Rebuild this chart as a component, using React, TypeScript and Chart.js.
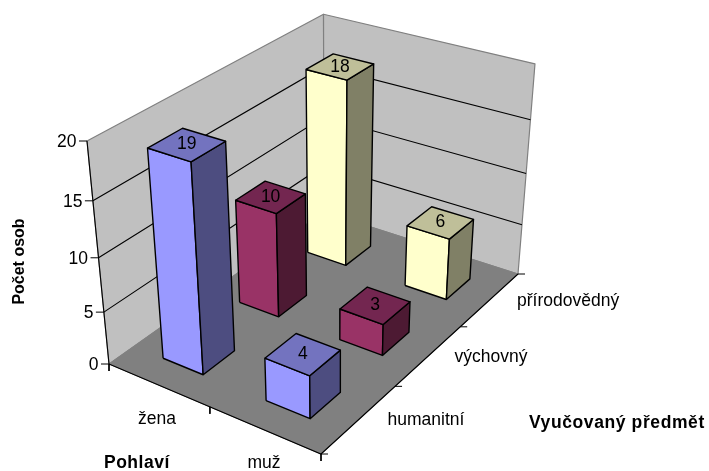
import React, { useEffect, useRef } from "react";
import { Chart, registerables } from "chart.js";

Chart.register(...registerables);

const subjects = ["humanitní", "výchovný", "přírodovědný"];
const genders = ["žena", "muž"];
const zena = [19, 10, 18];
const muz = [4, 3, 6];
const valueTicks = [0, 5, 10, 15, 20];
const valueMax = 20;
const faceColors = [
  { front: "#9999FF", side: "#4D4D80", top: "#7373BF" },
  { front: "#993366", side: "#4D1A33", top: "#732650" },
  { front: "#FFFFCC", side: "#808066", top: "#BFBF99" },
];

// perspective frame: the floor corners and the wall top corners
const A = [109, 364];
const B = [321, 454];
const C = [518, 274];
const D = [324, 212];
const Atop = [87, 141];
const Dtop = [324, 12];
const Ctop = [534, 65];

function makeProjection() {
  const dx1 = B[0] - C[0], dy1 = B[1] - C[1];
  const dx2 = D[0] - C[0], dy2 = D[1] - C[1];
  const sx = A[0] - B[0] + C[0] - D[0], sy = A[1] - B[1] + C[1] - D[1];
  const det = dx1 * dy2 - dx2 * dy1;
  const g = (sx * dy2 - dx2 * sy) / det;
  const h = (dx1 * sy - sx * dy1) / det;
  const a = B[0] - A[0] + g * B[0], b = D[0] - A[0] + h * D[0], c = A[0];
  const d = B[1] - A[1] + g * B[1], e = D[1] - A[1] + h * D[1], f = A[1];
  const rFromD = (b + Atop[0] - Dtop[0] * (1 + h)) / (Dtop[0] - Atop[0]);
  const rFromC = (a + b + Atop[0] - Ctop[0] * (1 + g + h)) / (Ctop[0] - Atop[0]);
  const r = (rFromD + rFromC) / 2;
  const p = Atop[0] * (1 + r) - c;
  const q = Atop[1] * (1 + r) - f;
  return (u: number, v: number, val: number) => {
    const s = u / genders.length, t = v / subjects.length, w = val / valueMax;
    const den = g * s + h * t + 1 + r * w;
    return { x: (a * s + b * t + c + p * w) / den, y: (d * s + e * t + f + q * w) / den };
  };
}
const project = makeProjection();

const poly = (pts: { x: number; y: number }[], fill: string, stroke: string, width: number) => ({
  data: [...pts, pts[0]],
  showLine: true,
  fill: "shape",
  backgroundColor: fill,
  borderColor: stroke,
  borderWidth: width,
  pointRadius: 0,
  tension: 0,
  clip: false,
  borderJoinStyle: "round",
});
const line = (pts: { x: number; y: number }[], stroke: string, width: number) => ({
  data: pts,
  showLine: true,
  fill: false,
  borderColor: stroke,
  borderWidth: width,
  pointRadius: 0,
  tension: 0,
  clip: false,
});

function buildDatasets() {
  const nu = genders.length, nv = subjects.length;
  const list: any[] = [];
  // walls and floor
  list.push(poly([project(0, 0, 0), project(0, nv, 0), project(0, nv, valueMax), project(0, 0, valueMax)], "#C0C0C0", "#808080", 1.2));
  list.push(poly([project(0, nv, 0), project(nu, nv, 0), project(nu, nv, valueMax), project(0, nv, valueMax)], "#C0C0C0", "#808080", 1.2));
  list.push(poly([project(0, 0, 0), project(nu, 0, 0), project(nu, nv, 0), project(0, nv, 0)], "#808080", "#808080", 1));
  // gridlines
  valueTicks.filter((t) => t > 0 && t < valueMax).forEach((t) => {
    list.push(line([project(0, 0, t), project(0, nv, t), project(nu, nv, t)], "#000000", 1.1));
  });
  // axes
  list.push(line([project(0, 0, 0), project(0, 0, valueMax)], "#000000", 1.1));
  list.push(line([project(0, 0, 0), project(nu, 0, 0), project(nu, nv, 0)], "#000000", 1.1));
  // ticks
  valueTicks.forEach((t) => {
    const p = project(0, 0, t);
    list.push(line([p, { x: p.x - 8, y: p.y }], "#000000", 1));
  });
  for (let i = 0; i <= nu; i++) {
    const p = project(i, 0, 0);
    list.push(line([p, { x: p.x, y: p.y + 7 }], "#000000", 1));
  }
  for (let j = 0; j <= nv; j++) {
    const p = project(nu, j, 0);
    list.push(line([p, { x: p.x + 7, y: p.y }], "#000000", 1));
  }
  // bars, back to front
  const rows = [zena, muz];
  for (let j = nv - 1; j >= 0; j--) {
    for (let i = 0; i < nu; i++) {
      const val = rows[i][j];
      const u0 = i + 0.3, u1 = i + 0.7, v0 = j + 0.3, v1 = j + 0.7;
      const col = faceColors[j];
      const K = "#000000";
      list.push(poly([project(u0, v0, 0), project(u1, v0, 0), project(u1, v0, val), project(u0, v0, val)], col.front, K, 1.4));
      list.push(poly([project(u1, v0, 0), project(u1, v1, 0), project(u1, v1, val), project(u1, v0, val)], col.side, K, 1.4));
      list.push(poly([project(u0, v0, val), project(u1, v0, val), project(u1, v1, val), project(u0, v1, val)], col.top, K, 1.4));
    }
  }
  return list.reverse();
}

const FONT = '"Liberation Sans", Arial, sans-serif';

const textPlugin = {
  id: "texts",
  afterDraw(chart: any) {
    const { ctx, scales } = chart;
    const px = (p: { x: number; y: number }) => [scales.x.getPixelForValue(p.x), scales.y.getPixelForValue(p.y)];
    const put = (s: string, x: number, y: number, align: CanvasTextAlign, font: string, spacing = 0, rot = 0) => {
      ctx.save();
      ctx.font = `${font} ${FONT}`;
      (ctx as any).letterSpacing = `${spacing}px`;
      ctx.fillStyle = "#000000";
      ctx.textAlign = align;
      ctx.textBaseline = "middle";
      ctx.translate(x, y);
      ctx.rotate(rot);
      ctx.fillText(s, 0, 0);
      ctx.restore();
    };
    const REG = "17.5px";
    const BOLD = "bold 17.5px";
    // value labels on top faces
    [zena, muz].forEach((row, i) =>
      row.forEach((val, j) => {
        const [x, y] = px(project(i + 0.5, j + 0.5, val));
        put(String(val), x, y, "center", REG);
      })
    );
    // value axis labels
    valueTicks.forEach((t) => {
      const [x, y] = px(project(0, 0, t));
      put(String(t), x - 10.5, y + 1, "right", REG);
    });
    put(genders[0], 157, 419, "center", REG);
    put(genders[1], 264, 463, "center", REG);
    put(subjects[0], 426, 420, "center", REG);
    put(subjects[1], 491, 357, "center", REG);
    put(subjects[2], 517, 301, "left", REG);
    put("Pohlaví", 104, 463, "left", BOLD, 0.5);
    put("Vyučovaný předmět", 529, 423, "left", BOLD, 0.6);
    put("Počet osob", 20, 261.5, "center", "bold 16px", 0, -Math.PI / 2);
  },
};

export default function App() {
  const ref = useRef<HTMLCanvasElement>(null);
  useEffect(() => {
    const chart = new Chart(ref.current as HTMLCanvasElement, {
      type: "scatter",
      data: { datasets: buildDatasets() },
      options: {
        animation: false,
        responsive: false,
        layout: { padding: 0 },
        plugins: { legend: { display: false }, tooltip: { enabled: false } },
        scales: {
          x: { type: "linear", min: 0, max: 709, display: false },
          y: { type: "linear", min: 0, max: 471, reverse: true, display: false },
        },
      },
      plugins: [textPlugin],
    } as any);
    return () => chart.destroy();
  }, []);
  return (
    <canvas
      ref={ref}
      width={709}
      height={471}
      style={{ position: "fixed", left: 0, top: 0, display: "block" }}
    />
  );
}
